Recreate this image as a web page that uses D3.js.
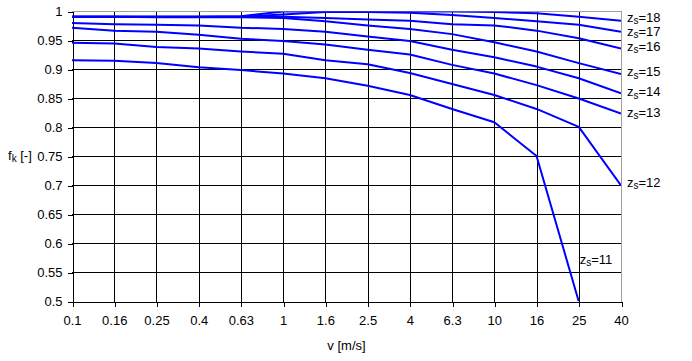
<!DOCTYPE html>
<html>
<head>
<meta charset="utf-8">
<script src="https://cdn.jsdelivr.net/npm/d3@7"></script>
<style>
	body { margin: 0; background: #fff; }
	svg { display: block; font-family: "Liberation Sans", Arial, sans-serif; }
	.grid line { stroke: #000; stroke-width: 1px; shape-rendering: crispEdges; }
	.axis text { font-size: 13px; fill: #000; }
	.axis line, .axis path { stroke: #000; shape-rendering: crispEdges; }
	.label { font-size: 13px; fill: #000; }
</style>
</head>
<body>
<svg id="chart" width="692" height="361"></svg>
<script>
// speeds v [m/s], equally spaced categories
var speeds	= ["0.1", "0.16", "0.25", "0.4", "0.63", "1", "1.6", "2.5", "4", "6.3", "10", "16", "25", "40"];
var yTicks	= [0.5, 0.55, 0.6, 0.65, 0.7, 0.75, 0.8, 0.85, 0.9, 0.95, 1];

// f_k per number of teeth z_s
var zs11	= [0.916, 0.915, 0.911, 0.904, 0.899, 0.893, 0.885, 0.872, 0.856, 0.832, 0.809, 0.751, 0.5, null];
var zs12	= [0.946, 0.945, 0.939, 0.936, 0.931, 0.927, 0.916, 0.909, 0.894, 0.875, 0.856, 0.832, 0.801, 0.70];
var zs13	= [0.972, 0.967, 0.965, 0.960, 0.953, 0.949, 0.943, 0.934, 0.926, 0.908, 0.893, 0.873, 0.850, 0.824];
var zs14	= [0.980, 0.978, 0.977, 0.976, 0.972, 0.970, 0.965, 0.957, 0.949, 0.934, 0.921, 0.905, 0.885, 0.859];
var zs15	= [0.991, 0.991, 0.990, 0.990, 0.990, 0.989, 0.983, 0.976, 0.970, 0.961, 0.947, 0.931, 0.911, 0.892];
var zs16	= [0.991, 0.991, 0.991, 0.991, 0.991, 0.991, 0.989, 0.986, 0.984, 0.978, 0.976, 0.967, 0.954, 0.936];
var zs17	= [0.991, 0.991, 0.991, 0.991, 0.991, 0.995, 0.999, 0.999, 0.998, 0.994, 0.989, 0.983, 0.977, 0.965];
var zs18	= [0.991, 0.991, 0.991, 0.991, 0.992, 1.0, 1.0, 1.0, 1.0, 1.0, 0.999, 0.997, 0.991, 0.984];

var series = [
	{ z: "11", values: zs11 },
	{ z: "12", values: zs12 },
	{ z: "13", values: zs13 },
	{ z: "14", values: zs14 },
	{ z: "15", values: zs15 },
	{ z: "16", values: zs16 },
	{ z: "17", values: zs17 },
	{ z: "18", values: zs18 }
];

(function() {
var	svg	= d3.select("#chart"),
	pLeft	= 72, pRight = 621, pTop = 11.5, pBottom = 301.5;

var	x	= d3.scalePoint().domain(speeds).range([pLeft, pRight]),
	y	= d3.scaleLinear().domain([0.5, 1]).range([pBottom, pTop]);

svg.append("defs").append("clipPath").attr("id", "plot")
	.append("rect").attr("x", pLeft).attr("y", pTop).attr("width", pRight - pLeft).attr("height", pBottom - pTop);

// grid
var grid = svg.append("g").attr("class", "grid");
grid.selectAll("line.v").data(speeds.slice(1, -1)).enter().append("line")
	.attr("x1", function(d) { return Math.round(x(d)) + 0.5; })
	.attr("x2", function(d) { return Math.round(x(d)) + 0.5; })
	.attr("y1", pTop).attr("y2", pBottom);
grid.selectAll("line.h").data(yTicks.slice(1, -1)).enter().append("line")
	.attr("x1", pLeft).attr("x2", pRight)
	.attr("y1", function(d) { return y(d); })
	.attr("y2", function(d) { return y(d); });

// grey frame top/right
svg.append("path")
	.attr("d", "M" + pLeft + "," + pTop + "H" + (Math.round(pRight) + 0.5) + "V" + pBottom)
	.attr("fill", "none").attr("stroke", "#a0a0a0").attr("stroke-width", 1)
	.style("shape-rendering", "crispEdges");

// axes
svg.append("g").attr("class", "axis x")
	.attr("transform", "translate(0," + pBottom + ")")
	.call(d3.axisBottom(x).tickSize(5).tickPadding(9).tickSizeOuter(0))
	.call(function(g) { g.selectAll(".tick line").attr("transform", "translate(0.5,0)"); });

svg.append("g").attr("class", "axis y")
	.attr("transform", "translate(" + (pLeft + 0.5) + ",0)")
	.call(d3.axisLeft(y).tickValues(yTicks).tickFormat(d3.format("~g")).tickSize(5).tickPadding(5).tickSizeOuter(0));

svg.selectAll(".axis").attr("font-family", null).attr("font-size", null);

// lines
var line = d3.line()
	.defined(function(d) { return d != null; })
	.x(function(d, i) { return x(speeds[i]); })
	.y(function(d) { return y(d); });

svg.append("g").attr("clip-path", "url(#plot)")
	.selectAll("path").data(series).enter().append("path")
	.attr("d", function(d) { return line(d.values); })
	.attr("fill", "none")
	.attr("stroke", "#0000ff")
	.attr("stroke-width", 2)
	.attr("stroke-linejoin", "round");

// z_s labels
function zLabel(g, z) {
	g.append("tspan").text("z");
	g.append("tspan").attr("dy", 2.5).attr("font-size", "10px").text("s");
	g.append("tspan").attr("dy", -2.5).text("=" + z);
}
var offs = { "18": -2, "17": 1, "16": -1, "15": -1, "14": 0, "13": 0, "12": -2 };
series.forEach(function(s) {
	var last = s.values[s.values.length - 1],
		t = svg.append("text").attr("class", "label").attr("dominant-baseline", "middle");
	if (last == null) {
		t.attr("x", x("25") + 1).attr("y", y(0.57));
	} else {
		t.attr("x", pRight + 6).attr("y", y(last) + offs[s.z]);
	}
	zLabel(t, s.z);
});

// axis titles
svg.append("text").attr("class", "label")
	.attr("x", (pLeft + pRight) / 2).attr("y", 350).attr("text-anchor", "middle")
	.text("v [m/s]");

var fk = svg.append("text").attr("class", "label")
	.attr("x", 8).attr("y", y(0.75)).attr("dominant-baseline", "middle");
fk.append("tspan").text("f");
fk.append("tspan").attr("dy", 2.5).attr("font-size", "10px").text("k");
fk.append("tspan").attr("dy", -2.5).text(" [-]");
})();
</script>
</body>
</html>
